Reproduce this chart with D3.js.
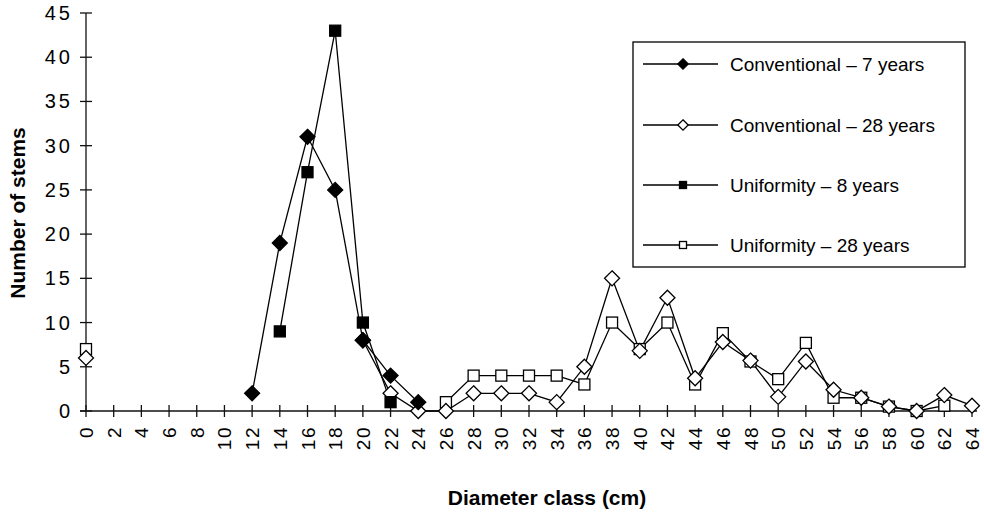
<!DOCTYPE html>
<html>
<head>
<meta charset="utf-8">
<script src="https://cdn.jsdelivr.net/npm/d3@7"></script>
<style>
  body { margin: 0; background: #fff; }
  svg { font-family: "Liberation Sans", Arial, sans-serif; }
</style>
</head>
<body>
<svg width="984" height="512"></svg>
<script>
// diameter classes (cm)
const classes = [0,2,4,6,8,10,12,14,16,18,20,22,24,26,28,30,32,34,36,38,40,42,44,46,48,50,52,54,56,58,60,62,64]
const yTicks = [0,5,10,15,20,25,30,35,40,45]

// number of stems per class, null = no point
const conv7 = [null,null,null,null,null,null,2,19,31,25,8,4,1,null,null,null,null,null,null,null,null,null,null,null,null,null,null,null,null,null,null,null,null]
const conv28 = [6,null,null,null,null,null,null,null,null,null,8,2,0,0,2,2,2,1,5,15,6.8,12.8,3.7,7.8,5.7,1.6,5.6,2.4,1.5,0.5,0,1.8,0.6]
const unif8 = [null,null,null,null,null,null,null,9,27,43,10,1,null,null,null,null,null,null,null,null,null,null,null,null,null,null,null,null,null,null,null,null,null]
const unif28 = [7,null,null,null,null,null,null,null,null,null,null,null,null,1,4,4,4,4,3,10,7,10,3,8.8,5.6,3.6,7.7,1.5,1.5,0.5,0,0.6,null]

const seriesNames = ["Conventional \u2013 7 years", "Conventional \u2013 28 years", "Uniformity \u2013 8 years", "Uniformity \u2013 28 years"]

const svg = d3.select("svg")

let x = d3.scaleLinear().domain([0, 64]).range([86, 972])
let y = d3.scaleLinear().domain([0, 45]).range([411, 13])

// y axis
svg.append("line")
   .attr("x1", x(0)).attr("x2", x(0))
   .attr("y1", y(45)).attr("y2", y(0))
   .attr("stroke", "#111").attr("stroke-width", 1.3)

svg.selectAll(".ytick").data(yTicks).enter().append("line")
   .attr("x1", x(0) - 6).attr("x2", x(0) + 6)
   .attr("y1", d => y(d)).attr("y2", d => y(d))
   .attr("stroke", "#111").attr("stroke-width", 1.3)

svg.selectAll(".ylab").data(yTicks).enter().append("text")
   .attr("x", 73).attr("y", d => y(d) + 7)
   .attr("text-anchor", "end")
   .attr("font-size", 20)
   .style("letter-spacing", "3px")
   .text(d => d)

// x axis
svg.append("line")
   .attr("x1", 80).attr("x2", 977)
   .attr("y1", y(0)).attr("y2", y(0))
   .attr("stroke", "#111").attr("stroke-width", 1.3)

svg.selectAll(".xtick").data(classes).enter().append("line")
   .attr("x1", d => x(d)).attr("x2", d => x(d))
   .attr("y1", y(0) - 6).attr("y2", y(0) + 6)
   .attr("stroke", "#111").attr("stroke-width", 1.3)

svg.selectAll(".xlab").data(classes).enter().append("text")
   .attr("transform", d => "translate(" + (x(d) + 7) + "," + 426 + ") rotate(-90)")
   .attr("text-anchor", "end")
   .attr("font-size", 19)
   .style("letter-spacing", "1.5px")
   .text(d => d)

// axis titles
svg.append("text")
   .attr("x", 547).attr("y", 505)
   .attr("text-anchor", "middle")
   .attr("font-size", 21).attr("font-weight", "bold")
   .text("Diameter class (cm)")

svg.append("text")
   .attr("transform", "translate(25,213) rotate(-90)")
   .attr("text-anchor", "middle")
   .attr("font-size", 21).attr("font-weight", "bold")
   .text("Number of stems")

// series
const series = [
  { vals: unif28, shape: "square", fill: "#fff" },
  { vals: conv28, shape: "diamond", fill: "#fff" },
  { vals: unif8, shape: "square", fill: "#000" },
  { vals: conv7, shape: "diamond", fill: "#000" }
]

const line = d3.line()
   .defined(d => d.v !== null)
   .x(d => x(d.c)).y(d => y(d.v))

function marker(g, shape, fill, size) {
  if (shape === "diamond") {
    g.append("path")
     .attr("d", d3.symbol(d3.symbolDiamond2, size * size * 0.85)())
     .attr("fill", fill).attr("stroke", "#000").attr("stroke-width", 1.3)
  } else {
    g.append("rect")
     .attr("x", -size / 2).attr("y", -size / 2)
     .attr("width", size).attr("height", size)
     .attr("fill", fill).attr("stroke", "#000").attr("stroke-width", 1.3)
  }
}

series.forEach(s => {
  let pts = classes.map((c, i) => ({ c: c, v: s.vals[i] }))
  svg.append("path")
     .attr("d", line(pts))
     .attr("fill", "none").attr("stroke", "#000").attr("stroke-width", 1.3)
})

series.forEach(s => {
  let pts = classes.map((c, i) => ({ c: c, v: s.vals[i] })).filter(d => d.v !== null)
  pts.forEach(p => {
    let g = svg.append("g").attr("transform", "translate(" + x(p.c) + "," + y(p.v) + ")")
    marker(g, s.shape, s.fill, s.shape === "diamond" ? 13 : 11)
  })
})

// legend
svg.append("rect")
   .attr("x", 633).attr("y", 42)
   .attr("width", 332).attr("height", 225)
   .attr("fill", "#fff").attr("stroke", "#000").attr("stroke-width", 1.3)

const legendOrder = [
  { shape: "diamond", fill: "#000" },
  { shape: "diamond", fill: "#fff" },
  { shape: "square", fill: "#000" },
  { shape: "square", fill: "#fff" }
]
const legendY = [64, 125, 185, 245]

legendOrder.forEach((l, i) => {
  svg.append("line")
     .attr("x1", 643).attr("x2", 718)
     .attr("y1", legendY[i]).attr("y2", legendY[i])
     .attr("stroke", "#000").attr("stroke-width", 1.3)
  let g = svg.append("g").attr("transform", "translate(683," + legendY[i] + ")")
  marker(g, l.shape, l.fill, l.shape === "diamond" ? 9 : 7)
  svg.append("text")
     .attr("x", 730).attr("y", legendY[i] + 7)
     .attr("font-size", 19)
     .text(seriesNames[i])
})
</script>
</body>
</html>
